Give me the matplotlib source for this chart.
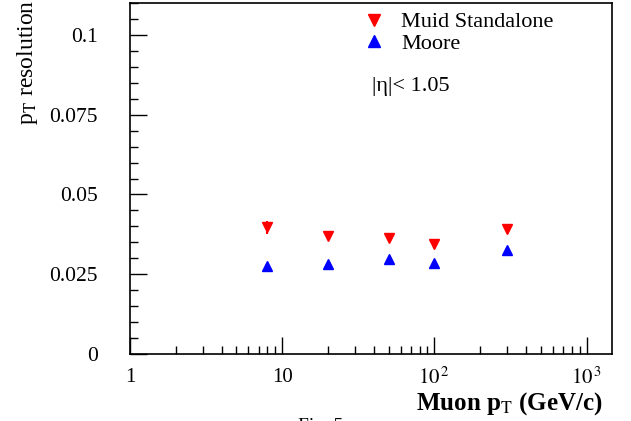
import matplotlib
matplotlib.use("Agg")
import matplotlib.pyplot as plt
from matplotlib.lines import Line2D
from matplotlib.ticker import FixedLocator, MultipleLocator, NullFormatter

plt.rcParams['font.family'] = ['Liberation Serif', 'DejaVu Serif']
plt.rcParams['mathtext.fontset'] = 'stix'

# data
pt = [8, 20, 50, 100, 300]
muid = [0.0397, 0.0370, 0.0363, 0.0346, 0.0391]
muid_err = [0.0020, 0.0006, 0.0006, 0.0006, 0.0010]
moore = [0.0276, 0.0283, 0.0297, 0.0286, 0.0326]
moore_err = [0.0005, 0.0005, 0.0005, 0.0005, 0.0006]

fig = plt.figure(figsize=(6.31, 4.21), dpi=100)
ax = fig.add_axes([130 / 631, 1 - 354 / 421, 482 / 631, 351 / 421])

ax.errorbar(pt, muid, yerr=muid_err, fmt='v', color='red', ms=7.5,
            elinewidth=1.5, capsize=0)
ax.errorbar(pt, moore, yerr=moore_err, fmt='^', color='blue', ms=7.5,
            elinewidth=1.5, capsize=0)

ax.set_xscale('log')
ax.set_xlim(1, 1470)
ax.set_ylim(0, 0.11)

ax.xaxis.set_major_locator(FixedLocator([1, 10, 100, 1000]))
ax.set_xticklabels(['1', '10', r'$10^{\,2}$', r'$10^{\,3}$'])
ax.xaxis.set_minor_locator(FixedLocator([m * d for d in (1, 10, 100, 1000)
                                         for m in range(2, 10)]))
ax.xaxis.set_minor_formatter(NullFormatter())
ax.set_yticks([0, 0.025, 0.05, 0.075, 0.1])
ax.set_yticklabels(['0', '0.025', '0.05', '0.075', '0.1'])
ax.yaxis.set_minor_locator(MultipleLocator(0.005))

ax.tick_params(which='both', direction='in', top=False, right=False, width=1)
ax.tick_params(which='major', length=12, labelsize=15.5)
ax.tick_params(which='minor', length=6)
ax.tick_params(axis='y', pad=23)
ax.tick_params(axis='x', pad=10, labelsize=15)
for s in ax.spines.values():
    s.set_linewidth(1.2)

fig.text(603 / 631, 1 - 410 / 421, r'Muon p$_{\mathrm{T}}$ (GeV/c)',
         ha='right', va='baseline', fontsize=18, fontweight='bold')
fig.text(28 / 631, 1.0, r'p$_{\mathrm{T}}$ resolution', rotation=90,
         ha='center', va='top', fontsize=17)
fig.text(298 / 631, 1 - 431 / 421, 'Fig. 5', ha='left', va='baseline', fontsize=14)

ax.text((372 - 130) / 482, 1 - (87 - 3) / 351, '|η|< 1.05',
        transform=ax.transAxes, ha='left', va='center', fontsize=16)

handles = [Line2D([], [], ls='none', marker='v', color='red', ms=9),
           Line2D([], [], ls='none', marker='^', color='blue', ms=9)]
ax.legend(handles, ['Muid Standalone', 'Moore'], loc='upper left',
          bbox_to_anchor=((352 - 130) / 482, 1.0), frameon=False, fontsize=16,
          handletextpad=0.6, labelspacing=0.05, borderaxespad=0.0,
          handlelength=1.2)

fig.savefig('out.png', dpi=100)
